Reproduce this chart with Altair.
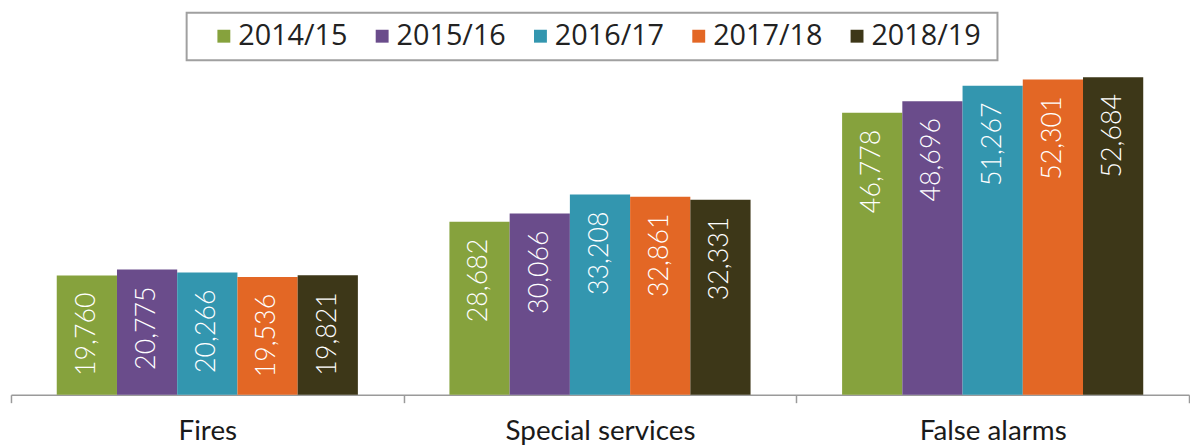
import altair as alt
import pandas as pd

categories = ["Fires", "Special services", "False alarms"]
years = ["2014/15", "2015/16", "2016/17", "2017/18", "2018/19"]
fires = [19760, 20775, 20266, 19536, 19821]
special_services = [28682, 30066, 33208, 32861, 32331]
false_alarms = [46778, 48696, 51267, 52301, 52684]
colors = ["#86A23D", "#6A4C8B", "#3396AF", "#E36725", "#3D3718"]

rows = []
for cat, vals in zip(categories, [fires, special_services, false_alarms]):
    for yr, v in zip(years, vals):
        rows.append({"category": cat, "year": yr, "value": v})
df = pd.DataFrame(rows)

base = alt.Chart(df).encode(
    x=alt.X(
        "category:N",
        sort=categories,
        scale=alt.Scale(paddingInner=0, paddingOuter=0),
        axis=alt.Axis(
            title=None,
            labelAngle=0,
            labelLimit=0,
            tickBand="extent",
            domainColor="#9a9a9a",
            domainWidth=1.5,
            tickColor="#9a9a9a",
            tickWidth=1.5,
            tickSize=8,
            labelFont="Lato",
            labelFontSize=28,
            labelColor="#1a1a1a",
            labelPadding=15,
            grid=False,
        ),
    ),
    xOffset=alt.XOffset("year:N", sort=years, scale=alt.Scale(paddingInner=0, paddingOuter=0.76)),
    y=alt.Y("value:Q", scale=alt.Scale(domain=[0, 63550], nice=False), axis=None),
)

bars = base.mark_bar().encode(
    color=alt.Color(
        "year:N",
        sort=years,
        scale=alt.Scale(domain=years, range=colors),
        legend=alt.Legend(
            title="\u00a0",
            titleOrient="right",
            titleFontSize=10,
            titlePadding=8,
            orient="none",
            legendX=177,
            legendY=1,
            direction="horizontal",
            symbolType="square",
            symbolSize=169,
            symbolStrokeWidth=0,
            symbolOpacity=1,
            symbolOffset=14,
            labelFont="Open Sans",
            labelFontSize=29,
            labelColor="#222222",
            labelOffset=0,
            columnPadding=5.5,
            padding=9,
            strokeColor="#a0a0a0",
        ),
    )
)

labels = base.mark_text(
    angle=270,
    align="right",
    baseline="middle",
    dx=-17,
    color="white",
    font="Lato",
    fontSize=27,
    fontWeight=300,
).encode(text=alt.Text("value:Q", format=","))

chart = (
    alt.layer(bars, labels)
    .properties(width=1187, height=386, padding={"left": 2, "top": 2, "right": 0, "bottom": 0})
    .configure_view(stroke=None)
    .configure_legend(strokeWidth=2)
)

chart.save("out.html", embed_options={"renderer": "svg", "actions": False})
